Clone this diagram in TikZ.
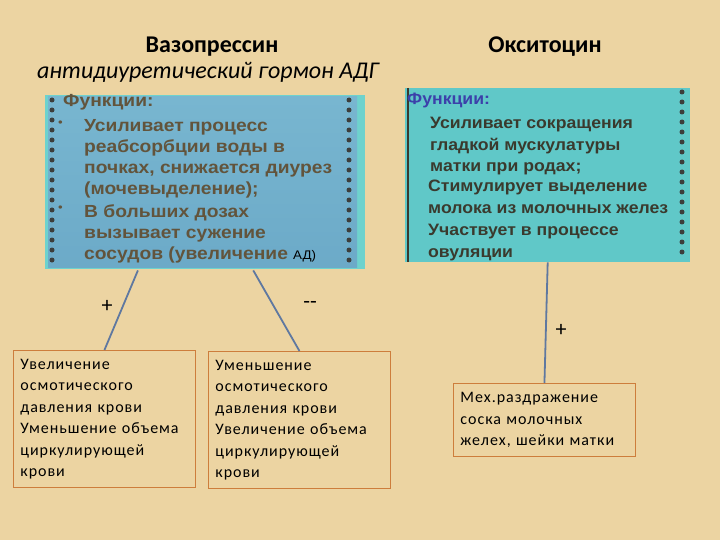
\documentclass[tikz,border=0pt]{standalone}
\usepackage{fontspec}
\setmainfont{Carlito}
\newfontfamily\arialb[FakeStretch=1.1]{Liberation Sans}
\newfontfamily\arialr[FakeStretch=1.07]{Liberation Sans}
\newfontfamily\lowfont[LetterSpace=6]{Carlito}
\usetikzlibrary{calc}
\definecolor{bg}{RGB}{236,212,162}
\definecolor{steel}{RGB}{108,170,200}
\definecolor{steeltop}{RGB}{120,182,208}
\definecolor{teal}{RGB}{96,200,200}
\definecolor{tealedge}{RGB}{110,210,205}
\definecolor{dotc}{RGB}{60,62,60}
\definecolor{ltxt}{RGB}{98,84,60}
\definecolor{rtxt}{RGB}{58,58,46}
\definecolor{funcblue}{RGB}{60,64,170}
\definecolor{boxor}{RGB}{205,125,60}
\definecolor{connc}{RGB}{95,120,160}
\begin{document}
\begin{tikzpicture}[x=1pt,y=-1pt,
  boxtext/.style={anchor=north west, inner sep=0pt, align=left, font=\arialb\bfseries\fontsize{17.5}{21}\selectfont},
  rboxtext/.style={anchor=north west, inner sep=0pt, align=left, font=\arialr\bfseries\fontsize{16.5}{21.5}\selectfont},
  lowbox/.style={draw=boxor, line width=0.9pt, anchor=north west, inner xsep=7pt, inner ysep=0pt,
     text width=168pt, minimum height=137pt, align=left, font=\lowfont\fontsize{16}{21.5}\selectfont},
  dotline/.style={draw=dotc, line width=5pt, line cap=round, dash pattern=on 0pt off 10pt},
  conn/.style={draw=connc, line width=1.8pt},
  sign/.style={inner sep=0pt, font=\fontsize{22}{24}\selectfont}]
\useasboundingbox[fill=bg] (0,0) rectangle (720,540);
% titles
\node[inner sep=0pt, font=\bfseries\fontsize{24}{28}\selectfont] (t1) at (212,47) {Вазопрессин};
\node[inner sep=0pt, font=\itshape\fontsize{24}{28}\selectfont] (t2) at (208,72) {антидиуретический гормон АДГ};
\node[inner sep=0pt, font=\bfseries\fontsize{24}{28}\selectfont] (t3) at (545,47) {Окситоцин};
% left blue box
\node[fill=tealedge, anchor=north west, minimum width=320pt, minimum height=174pt, inner sep=0pt] (vaso) at (45,95) {};
\fill[top color=steeltop, bottom color=steel] (48,97) rectangle (357,267);
\draw[dotline] (52,100) -- (52,268);
\draw[dotline] (349,100) -- (349,268);
\node[boxtext, text=ltxt] (f1) at (63,94) {Функции:};
\node[boxtext, text=ltxt, font=\arialb\fontsize{12}{14}\selectfont] (b1) at (58,121) {•};
\node[boxtext, text=ltxt, font=\arialb\fontsize{12}{14}\selectfont] (b2) at (58,206) {•};
\node[boxtext, text=ltxt] (v1) at (84,119) {Усиливает процесс\\реабсорбции воды в\\почках, снижается диурез\\(мочевыделение);};
\node[boxtext, text=ltxt] (v2) at (84,204) {В больших дозах\\вызывает сужение\\сосудов (увеличение};
\node[inner sep=0pt, anchor=base west, font=\arialr\fontsize{12.5}{14}\selectfont] (ad) at (293,259) {АД)};
% right teal box
\node[fill=teal, anchor=north west, minimum width=285pt, minimum height=174pt, inner sep=0pt] (oxy) at (405,88) {};
\draw[draw=rtxt, line width=1.6pt] (408,88) -- (408,262);
\draw[dotline] (682,92) -- (682,260);
\node[rboxtext, text=funcblue, font=\arialr\bfseries\fontsize{16.5}{18}\selectfont] (f2) at (407,93) {Функции:};
\node[rboxtext, text=rtxt] (o1) at (430,117) {Усиливает сокращения\\гладкой мускулатуры\\матки при родах;};
\node[rboxtext, text=rtxt] (o2) at (428,180) {Стимулирует выделение\\молока из молочных  желез};
\node[rboxtext, text=rtxt] (o3) at (428,224) {Участвует  в процессе\\овуляции};
% lower boxes
\node[lowbox] (bl) at (13,350) {Увеличение\\осмотического\\давления крови\\Уменьшение объема\\циркулирующей\\крови};
\node[lowbox] (bm) at (208,351) {Уменьшение\\осмотического\\давления крови\\Увеличение объема\\циркулирующей\\крови};
\node[lowbox, minimum height=73pt] (br) at (453,383) {Мех.раздражение\\соска молочных\\желех, шейки матки};
% connectors
\draw[conn] ($(vaso.south west)!0.29!(vaso.south east)+(0,1)$) -- (bl.north);
\draw[conn] ($(vaso.south west)!0.65!(vaso.south east)+(0,1)$) -- (bm.north);
\draw[conn] (oxy.south) -- (br.north);
% signs
\node[sign] (s1) at (107,306) {+};
\node[sign] (s2) at (310,305) {-{}-};
\node[sign] (s3) at (561,330) {+};
\end{tikzpicture}
\end{document}
